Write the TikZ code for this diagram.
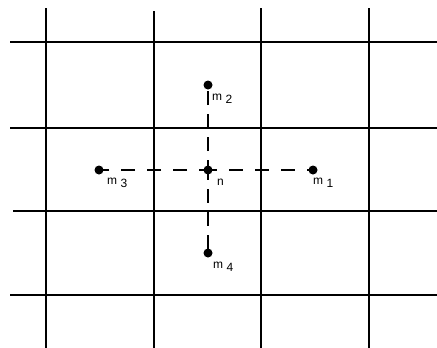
\documentclass[tikz,border=0pt]{standalone}
\usepackage{fontspec}
\setmainfont{Liberation Sans}
\begin{document}
\begin{tikzpicture}[x=1pt,y=-1pt,
  gridline/.style={line width=1.2pt,black},
  dotpt/.style={circle,fill=black,inner sep=0pt,minimum size=9pt},
  hdash/.style={line width=1.2pt,dash pattern=on 14pt off 12pt,dash phase=5pt},
  vdash/.style={line width=1.2pt,dash pattern=on 14pt off 9pt,dash phase=4pt},
  lbl/.style={anchor=base west,inner sep=0pt,font=\fontsize{12}{14}\selectfont}]
\useasboundingbox (0,0) rectangle (437,348);
% grid
\foreach \x/\t in {46/8,154/11,261/8,369/8} \draw[gridline] (\x,\t) -- (\x,348);
\foreach \y/\s in {42/10,128/10,211/13,295/10} \draw[gridline] (\s,\y) -- (437,\y);
% points
\node[dotpt] (n) at (208,170) {};
\node[dotpt] (m1) at (313,170) {};
\node[dotpt] (m2) at (208,85) {};
\node[dotpt] (m3) at (99,170) {};
\node[dotpt] (m4) at (208,253) {};
% connectors
\draw[hdash] (n.center) -- (m3.center);
\draw[hdash] (n.center) -- (m1.center);
\draw[vdash] (n.center) -- (m2.center);
\draw[vdash] (n.center) -- (m4.center);
% labels
\node[lbl] (l2) at (212,100) {m\hspace{3.5pt}\raisebox{-3.5pt}{2}};
\node[lbl] (l3) at (107,184) {m\hspace{3.5pt}\raisebox{-3.5pt}{3}};
\node[lbl] (l1) at (313,184) {m\hspace{3.5pt}\raisebox{-3.5pt}{1}};
\node[lbl] (l4) at (213,268) {m\hspace{3.5pt}\raisebox{-3.5pt}{4}};
\node[lbl] (ln) at (217,185) {n};
\end{tikzpicture}
\end{document}
